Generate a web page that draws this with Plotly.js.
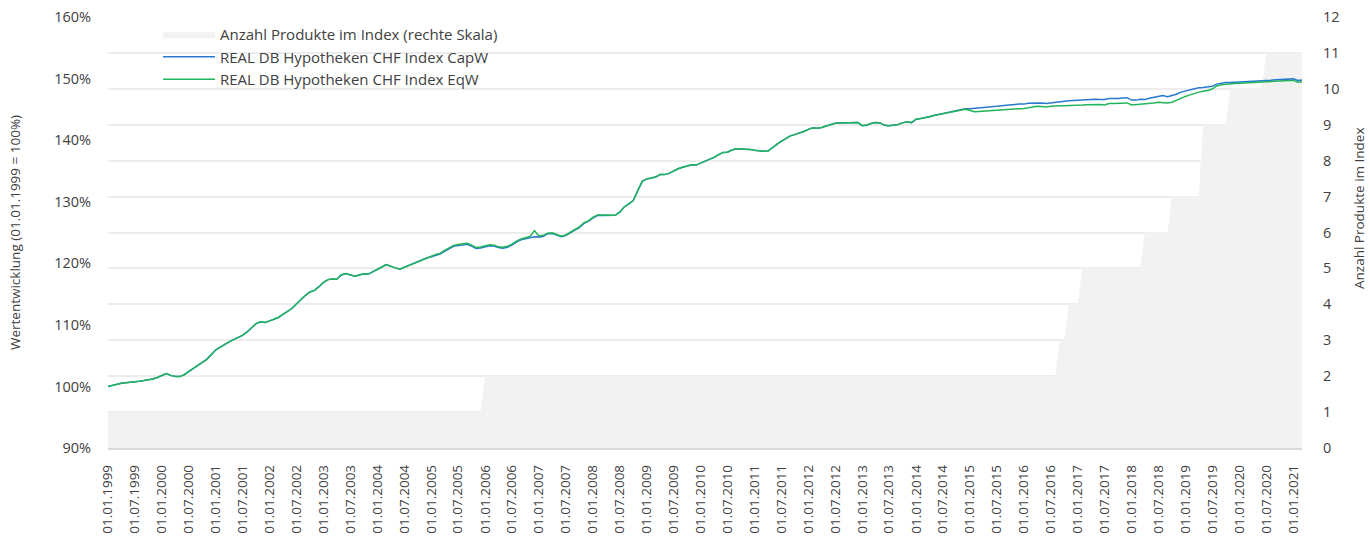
<!DOCTYPE html>
<html>
<head>
<meta charset="utf-8">
<script src="https://cdn.plot.ly/plotly-3.0.1.min.js"></script>
<style>html,body{margin:0;padding:0;background:#fff;}#chart{width:1370px;height:537px;}</style>
</head>
<body>
<div id="chart"></div>
<script>
// Monthly observations starting 01.01.1999 (one value per month)
const startYear = 1999;
const capwValues = [
100.0,100.2,100.4,100.5,100.6,100.65,100.7,100.85,100.95,101.05,101.2,101.45,
101.75,102.1,101.8,101.6,101.6,101.9,102.4,102.95,103.4,103.9,104.4,105.2,
105.95,106.4,106.85,107.25,107.6,107.9,108.3,108.85,109.5,110.2,110.5,110.4,
110.65,110.95,111.2,111.7,112.2,112.65,113.4,114.15,114.8,115.35,115.6,116.2,
116.9,117.35,117.45,117.4,118.1,118.35,118.1,117.9,118.1,118.3,118.25,118.6,
119.0,119.4,119.8,119.5,119.25,119.05,119.35,119.75,120.05,120.3,120.6,120.85,
121.05,121.35,121.5,121.95,122.35,122.75,122.9,123.0,123.1,122.8,122.4,122.5,
122.7,122.85,122.8,122.55,122.45,122.6,122.95,123.45,123.8,123.95,124.2,124.3,
124.25,124.4,124.8,124.85,124.6,124.3,124.5,124.95,125.4,125.8,126.45,126.8,
127.35,127.75,127.75,127.8,127.8,127.8,128.3,129.15,129.65,130.2,131.8,133.3,
133.7,133.85,134.0,134.4,134.4,134.6,135.0,135.35,135.6,135.75,136.0,135.95,
136.25,136.6,136.8,137.2,137.6,138.0,138.05,138.4,138.6,138.6,138.6,138.5,
138.35,138.25,138.2,138.2,138.8,139.3,139.8,140.3,140.7,140.9,141.1,141.4,
141.75,142.0,141.95,142.05,142.3,142.5,142.75,142.8,142.8,142.85,142.9,142.85,
142.35,142.45,142.7,142.85,142.8,142.4,142.35,142.4,142.55,142.8,143.0,142.85,
143.4,143.5,143.6,143.8,144.0,144.15,144.3,144.45,144.55,144.7,144.9,145.1,
145.1,145.15,145.2,145.25,145.35,145.45,145.5,145.6,145.7,145.8,145.8,145.85,
145.85,146.0,146.05,146.1,146.05,145.95,146.05,146.2,146.3,146.35,146.4,146.45,
146.5,146.5,146.55,146.65,146.65,146.6,146.6,146.75,146.7,146.75,146.85,146.9,
146.5,146.5,146.65,146.6,146.8,146.95,147.0,147.25,147.05,147.2,147.45,147.8,
148.0,148.15,148.35,148.5,148.55,148.65,148.75,149.1,149.25,149.35,149.37,149.4,
149.42,149.45,149.5,149.55,149.6,149.62,149.68,149.72,149.8,149.83,149.87,149.9,
149.95,149.7,149.75
];
const eqwValues = [
100.0,100.2,100.4,100.5,100.6,100.65,100.7,100.85,100.95,101.05,101.2,101.45,
101.75,102.1,101.8,101.6,101.6,101.9,102.4,102.95,103.4,103.9,104.4,105.2,
105.95,106.4,106.85,107.25,107.6,107.9,108.3,108.85,109.5,110.2,110.5,110.4,
110.65,110.95,111.2,111.7,112.2,112.65,113.4,114.15,114.8,115.35,115.6,116.2,
116.9,117.35,117.45,117.4,118.1,118.35,118.1,117.9,118.1,118.3,118.25,118.6,
119.0,119.4,119.8,119.5,119.25,119.05,119.35,119.75,120.05,120.3,120.6,120.85,
121.15,121.45,121.6,122.1,122.5,122.9,123.05,123.15,123.25,122.95,122.55,122.65,
122.85,123.0,122.95,122.7,122.6,122.75,123.1,123.6,123.95,124.1,124.35,125.3,
124.45,124.55,124.9,124.95,124.7,124.4,124.6,125.05,125.5,125.9,126.55,126.9,
127.45,127.85,127.85,127.85,127.85,127.8,128.3,129.15,129.65,130.2,131.8,133.3,
133.7,133.85,134.0,134.4,134.4,134.6,135.0,135.35,135.6,135.75,136.0,135.95,
136.25,136.6,136.8,137.2,137.6,138.0,138.05,138.4,138.6,138.6,138.6,138.5,
138.35,138.25,138.2,138.2,138.8,139.3,139.8,140.3,140.7,140.9,141.1,141.4,
141.75,142.0,141.95,142.05,142.3,142.5,142.75,142.8,142.8,142.85,142.9,142.85,
142.35,142.45,142.7,142.85,142.8,142.4,142.35,142.4,142.55,142.8,143.0,142.85,
143.4,143.5,143.6,143.8,144.0,144.15,144.3,144.45,144.55,144.7,144.85,145.0,
144.8,144.6,144.65,144.7,144.7,144.72,144.75,144.85,144.95,145.0,145.05,145.1,
145.15,145.25,145.35,145.5,145.45,145.4,145.5,145.6,145.6,145.6,145.6,145.65,
145.68,145.7,145.75,145.8,145.85,145.8,145.7,145.95,145.95,145.95,146.0,146.05,
145.7,145.75,145.9,145.95,145.95,146.05,146.15,146.05,146.05,146.15,146.5,146.85,
147.1,147.35,147.6,147.8,147.95,148.05,148.3,148.8,149.0,149.1,149.15,149.2,
149.25,149.3,149.35,149.4,149.45,149.48,149.5,149.55,149.6,149.62,149.65,149.68,
149.7,149.4,149.5
];
// Number of products in the index (vertices of the stepped area)
const countDates = ['1999-01-01','2005-12-01','2006-01-01','2016-08-01','2016-09-01','2016-10-01','2016-11-01',
  '2017-01-01','2017-02-01','2018-03-01','2018-04-01','2018-09-01','2018-10-01','2019-04-01','2019-05-01',
  '2019-10-01','2019-11-01','2020-06-01','2020-07-01','2021-03-01'];
const countValues = [1,1,2,2,3,3,4,4,5,5,6,6,7,7,9,9,10,10,11,11];

const seriesNames = ['Anzahl Produkte im Index (rechte Skala)','REAL DB Hypotheken CHF Index CapW','REAL DB Hypotheken CHF Index EqW'];

function pad(n){return (n<10?'0':'')+n;}
const monthDates = capwValues.map((v,k)=> (startYear+Math.floor(k/12))+'-'+pad(k%12+1)+'-01');
const tickVals = [], tickText = [];
for (let y = 1999; y <= 2021; y++) {
  for (const m of [1,7]) {
    if (y === 2021 && m === 7) continue;
    tickVals.push(y+'-'+pad(m)+'-01');
    tickText.push('01.'+pad(m)+'.'+y);
  }
}

const FONT = 'Open Sans, Noto Sans, sans-serif';
const traces = [
  {x: countDates, y: countValues, name: seriesNames[0], type:'scatter', mode:'lines',
   fill:'tozeroy', fillcolor:'#f2f2f2', line:{width:0, color:'#f2f2f2'}, yaxis:'y', legendgroup:'a', hoverinfo:'skip'},
  {x: monthDates, y: capwValues, name: seriesNames[1], type:'scatter', mode:'lines',
   line:{width:1.5, color:'#2878cf'}, yaxis:'y2', legendgroup:'b'},
  {x: monthDates, y: eqwValues, name: seriesNames[2], type:'scatter', mode:'lines',
   line:{width:1.5, color:'#22b45a'}, yaxis:'y2', legendgroup:'c'}
];

const layout = {
  width:1370, height:537,
  margin:{l:108, r:68, t:17, b:89},
  paper_bgcolor:'#ffffff', plot_bgcolor:'#ffffff',
  font:{family:FONT, color:'#404040', size:13},
  showlegend:true,
  legend:{x:0.0419, y:0.9976, xanchor:'left', yanchor:'top', bgcolor:'rgba(0,0,0,0)',
          font:{family:FONT, size:15, color:'#404040'}, tracegroupgap:0, itemwidth:52},
  xaxis:{type:'date', range:['1999-01-01','2021-03-01'], tickvals:tickVals, ticktext:tickText,
         tickangle:-90, tickfont:{size:13.5, color:'#404040'}, showgrid:false, zeroline:false,
         showline:true, linecolor:'#d9d9d9', linewidth:1.5, ticks:'', ticklabelstandoff:10, fixedrange:true},
  yaxis:{side:'right', range:[0,12], dtick:1, tick0:0, showgrid:true, gridcolor:'#ededed', gridwidth:2,
         zeroline:false, showline:false, ticks:'', tickfont:{size:14.5, color:'#404040'}, ticklabelstandoff:20},
  yaxis2:{overlaying:'y', side:'left', range:[90,160], dtick:10, tick0:90, ticksuffix:'%', showgrid:false,
          zeroline:false, showline:false, ticks:'', tickfont:{size:14.5, color:'#404040'}, ticklabelstandoff:16,
          title:{text:'Wertentwicklung (01.01.1999 = 100%)', font:{size:13.5, color:'#404040'}, standoff:30}},
  annotations:[{text:'Anzahl Produkte im Index', xref:'paper', yref:'paper', x:1, xshift:57, xanchor:'center',
                y:(448-208)/431, yanchor:'middle', textangle:-90, showarrow:false, font:{size:13.5, color:'#404040'}}]
};
Plotly.newPlot('chart', traces, layout, {displayModeBar:false, staticPlot:true});
</script>
</body>
</html>
